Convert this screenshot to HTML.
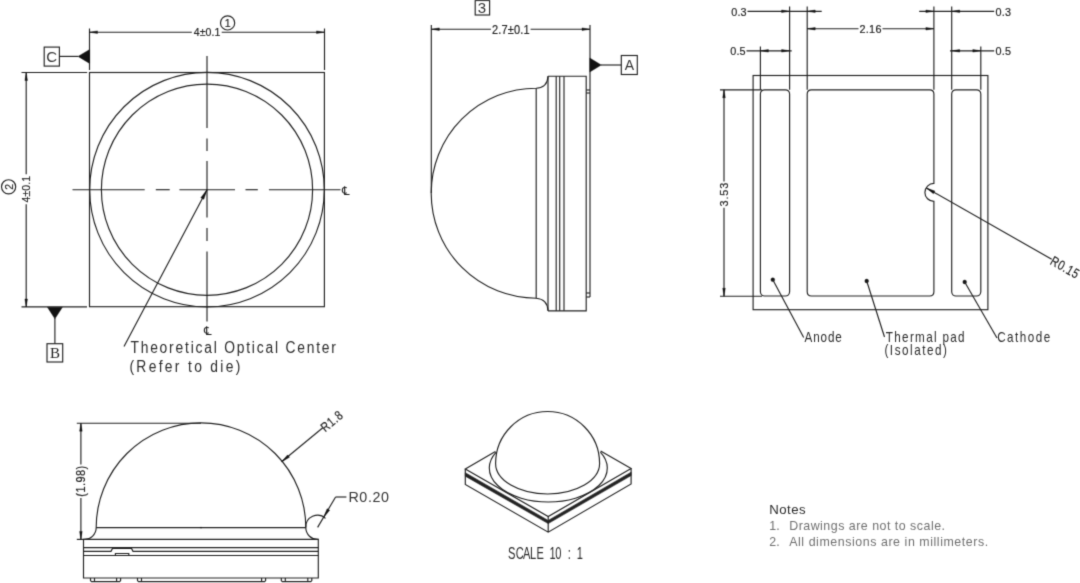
<!DOCTYPE html>
<html lang="en">
<head>
<meta charset="utf-8">
<title>LED package mechanical drawing</title>
<style>
html,body{margin:0;padding:0;background:#fff;}
body{width:1080px;height:583px;overflow:hidden;}
svg{display:block;filter:grayscale(1);}
svg line,svg rect,svg circle,svg path{fill:none;stroke:#222;stroke-width:1.15;}
svg .f{fill:#111;stroke:#111;stroke-width:.4;}
svg .band{fill:#222;stroke:#222;stroke-width:.6;}
svg .w{fill:#fff;}
svg text{font-family:"Liberation Sans","DejaVu Sans",sans-serif;fill:#222;stroke:none;}
svg text.cad{fill:#2b2b2b;}
svg text.dim{fill:#222;stroke:#222;stroke-width:.18;}
svg text.box{fill:#333;}
svg text.sym{font-family:"DejaVu Sans","Liberation Sans",sans-serif;fill:#222;}
svg text.ser{font-family:"Liberation Serif","DejaVu Serif",serif;}
svg text.nh{fill:#2a2a2a;}
svg text.nt{fill:#707070;}
</style>
</head>
<body>
<svg width="1080" height="583" viewBox="0 0 1080 583">
<defs><filter id="soft" x="0" y="0" width="1080" height="583" filterUnits="userSpaceOnUse" color-interpolation-filters="sRGB"><feConvolveMatrix order="3" kernelMatrix="2 10 2 10 52 10 2 10 2" edgeMode="none" preserveAlpha="false"/></filter></defs>
<g filter="url(#soft)">
<g id="top-view">
<rect x="89.5" y="72.5" width="234.9" height="234.2"/>
<circle cx="207" cy="189.7" r="117.3"/>
<circle cx="207" cy="189.7" r="105.6"/>
<line x1="72.5" y1="189.7" x2="144.7" y2="189.7"/>
<line x1="155.8" y1="189.7" x2="169.7" y2="189.7"/>
<line x1="179.4" y1="189.7" x2="235" y2="189.7"/>
<line x1="245.5" y1="189.7" x2="257.8" y2="189.7"/>
<line x1="268.9" y1="189.7" x2="340.5" y2="189.7"/>
<line x1="207" y1="56" x2="207" y2="128"/>
<line x1="207" y1="138.5" x2="207" y2="151"/>
<line x1="207" y1="161" x2="207" y2="217.5"/>
<line x1="207" y1="228" x2="207" y2="241"/>
<line x1="207" y1="251.5" x2="207" y2="321.5"/>
<text class="sym" transform="translate(342 194.6)" font-size="12">℄</text>
<text class="sym" transform="translate(204 334.6)" font-size="12">℄</text>
<line x1="89.5" y1="28.5" x2="89.5" y2="70"/>
<line x1="324.5" y1="28.5" x2="324.5" y2="70"/>
<line x1="89.5" y1="32.2" x2="191.8" y2="32.2"/>
<line x1="221.7" y1="32.2" x2="324.5" y2="32.2"/>
<polygon class="f" points="89.5,32.2 97.5,30.9 97.5,33.5"/>
<polygon class="f" points="324.5,32.2 316.5,33.5 316.5,30.9"/>
<text class="dim" transform="translate(207.1 36.4) translate(-13.3 0) scale(0.92 1)" font-size="11.5" textLength="28.91">4±0.1</text>
<circle cx="227.6" cy="22.9" r="7.1"/>
<text class="dim" transform="translate(227.6 27) scale(0.92 1)" font-size="11.5" text-anchor="middle">1</text>
<rect x="44.2" y="47.1" width="15.2" height="19"/>
<text class="box" transform="translate(51.6 61.8)" font-size="15" text-anchor="middle">C</text>
<line x1="59.4" y1="56.4" x2="78" y2="56.4"/>
<polygon class="f" points="78,56.4 89.6,49.6 89.6,63.4"/>
<line x1="21.5" y1="72.5" x2="87.2" y2="72.5"/>
<line x1="21.5" y1="306.8" x2="87" y2="306.8"/>
<line x1="26.2" y1="72.5" x2="26.2" y2="174.3"/>
<line x1="26.2" y1="204.3" x2="26.2" y2="307"/>
<polygon class="f" points="26.2,72.5 27.5,80.5 24.9,80.5"/>
<polygon class="f" points="26.2,307 24.9,299 27.5,299"/>
<text class="dim" transform="translate(30.4 189.2) rotate(-90) translate(-13.3 0) scale(0.92 1)" font-size="11.5" textLength="28.91">4±0.1</text>
<circle cx="8.6" cy="186.8" r="7.1"/>
<text class="dim" transform="translate(12.7 186.8) rotate(-90) scale(0.92 1)" font-size="11.5" text-anchor="middle">2</text>
<polygon class="f" points="47.4,307.2 62.4,307.2 54.9,318.8"/>
<line x1="54.9" y1="318" x2="54.9" y2="343.7"/>
<rect x="47" y="343.7" width="15.7" height="18.3"/>
<text class="ser" transform="translate(54.9 358)" font-size="15" text-anchor="middle">B</text>
<line x1="207" y1="189.7" x2="124" y2="346.5"/>
<polygon class="f" points="207,189.7 203.82,199.33 200.82,197.74"/>
<text class="cad" transform="translate(130.4 352.8) scale(0.8 1)" font-size="17.3" textLength="256.88">Theoretical Optical Center</text>
<text class="cad" transform="translate(129.4 372.1) scale(0.8 1)" font-size="17.3" textLength="138.75">(Refer to die)</text>
</g>
<g id="side-view">
<rect x="475.2" y="0.5" width="14.4" height="14.5"/>
<text class="box" transform="translate(482 12.7)" font-size="15" text-anchor="middle">3</text>
<line x1="431.3" y1="25" x2="431.3" y2="193"/>
<line x1="590" y1="25" x2="590" y2="297"/>
<line x1="431.3" y1="29.2" x2="490.9" y2="29.2"/>
<line x1="530.6" y1="29.2" x2="590" y2="29.2"/>
<polygon class="f" points="431.3,29.2 439.3,27.9 439.3,30.5"/>
<polygon class="f" points="590,29.2 582,30.5 582,27.9"/>
<text class="dim" transform="translate(510.8 33.6) translate(-18.75 0) scale(0.92 1)" font-size="12" textLength="40.76">2.7±0.1</text>
<polygon class="f" points="589.8,58 601.3,65 589.8,72"/>
<line x1="601" y1="65" x2="621.3" y2="65"/>
<rect x="621.3" y="55.5" width="16" height="19"/>
<text class="box" transform="translate(629.4 70.2)" font-size="14" text-anchor="middle">A</text>
<path d="M548 76.2H586.2V310.8H548"/>
<line x1="548" y1="76.2" x2="548" y2="310.8"/>
<line x1="556.2" y1="76.2" x2="556.2" y2="310.8"/>
<line x1="559.7" y1="76.2" x2="559.7" y2="310.8"/>
<line x1="564" y1="76.2" x2="564" y2="310.8"/>
<line x1="536.2" y1="88.3" x2="536.2" y2="298.3"/>
<path d="M548 76.2 Q547.5 87.5 536.2 88.2 A105 105 0 0 0 536.2 298.2 Q547.5 299 548 310.8"/>
<line x1="586.2" y1="90" x2="590" y2="90"/>
<line x1="586.2" y1="93" x2="590" y2="93"/>
<line x1="586.2" y1="297" x2="590" y2="297"/>
<line x1="586.2" y1="293" x2="590" y2="293"/>
</g>
<g id="pad-view">
<rect x="753.1" y="75.5" width="234.8" height="234.2"/>
<rect x="760.4" y="89.8" width="29.2" height="206.2" rx="4.2" ry="4.2"/>
<rect x="951.7" y="89.8" width="29.1" height="206.2" rx="4.2" ry="4.2"/>
<path d="M811.4000000000001 89.8H929.6999999999999Q933.9 89.8 933.9 94.0V183.4A9 9 0 0 0 933.9 201.4V291.8Q933.9 296 929.6999999999999 296H811.4000000000001Q807.2 296 807.2 291.8V94.0Q807.2 89.8 811.4000000000001 89.8Z"/>
<line x1="789.6" y1="6.5" x2="789.6" y2="89.8"/>
<line x1="807.2" y1="6.5" x2="807.2" y2="89.8"/>
<line x1="933.9" y1="6.5" x2="933.9" y2="89.8"/>
<line x1="951.7" y1="6.5" x2="951.7" y2="89.8"/>
<line x1="760.4" y1="46.5" x2="760.4" y2="89.8"/>
<line x1="980.8" y1="46.5" x2="980.8" y2="89.8"/>
<line x1="747.5" y1="11.3" x2="821.7" y2="11.3"/>
<polygon class="f" points="789.6,11.3 781.6,12.6 781.6,10"/>
<polygon class="f" points="807.2,11.3 815.2,10 815.2,12.6"/>
<line x1="919.2" y1="11.3" x2="994.2" y2="11.3"/>
<polygon class="f" points="933.9,11.3 925.9,12.6 925.9,10"/>
<polygon class="f" points="951.7,11.3 959.7,10 959.7,12.6"/>
<text class="dim" transform="translate(731.2 15.6) scale(0.92 1)" font-size="11.8" textLength="16.74">0.3</text>
<text class="dim" transform="translate(995.6 15.6) scale(0.92 1)" font-size="11.8" textLength="16.74">0.3</text>
<line x1="807.2" y1="28.7" x2="858.5" y2="28.7"/>
<line x1="882.5" y1="28.7" x2="933.9" y2="28.7"/>
<polygon class="f" points="807.2,28.7 815.2,27.4 815.2,30"/>
<polygon class="f" points="933.9,28.7 925.9,30 925.9,27.4"/>
<text class="dim" transform="translate(870.5 32.9) translate(-11 0) scale(0.92 1)" font-size="11.8" textLength="23.91">2.16</text>
<line x1="746.5" y1="50.8" x2="791.7" y2="50.8"/>
<polygon class="f" points="760.4,50.8 768.4,49.5 768.4,52.1"/>
<polygon class="f" points="789.6,50.8 781.6,52.1 781.6,49.5"/>
<line x1="950" y1="50.8" x2="994.2" y2="50.8"/>
<polygon class="f" points="951.7,50.8 959.7,49.5 959.7,52.1"/>
<polygon class="f" points="980.8,50.8 972.8,52.1 972.8,49.5"/>
<text class="dim" transform="translate(730.2 55.1) scale(0.92 1)" font-size="11.8" textLength="16.74">0.5</text>
<text class="dim" transform="translate(995.6 55.1) scale(0.92 1)" font-size="11.8" textLength="16.74">0.5</text>
<line x1="720" y1="89.8" x2="762" y2="89.8"/>
<line x1="720" y1="296.2" x2="762" y2="296.2"/>
<line x1="724" y1="89.8" x2="724" y2="181.5"/>
<line x1="724" y1="207.8" x2="724" y2="296.2"/>
<polygon class="f" points="724,89.8 725.3,97.8 722.7,97.8"/>
<polygon class="f" points="724,296.2 722.7,288.2 725.3,288.2"/>
<text class="dim" transform="translate(728.2 194.6) rotate(-90) translate(-11.8 0) scale(0.92 1)" font-size="11.8" textLength="25.65">3.53</text>
<line x1="926.3" y1="187.9" x2="1051.7" y2="259.3"/>
<polygon class="f" points="926.3,187.9 934.86,191.05 933.38,193.66"/>
<text class="dim" transform="translate(1049.3 263.8) rotate(29.7) scale(0.78 1)" font-size="13.6" textLength="39.1">R0.15</text>
<circle class="f" cx="772.8" cy="279.7" r="1.9"/>
<line x1="772.8" y1="279.7" x2="803.7" y2="337.5"/>
<circle class="f" cx="866.7" cy="281" r="1.9"/>
<line x1="866.7" y1="281" x2="884.5" y2="337"/>
<circle class="f" cx="964.7" cy="282" r="1.9"/>
<line x1="964.7" y1="282" x2="997" y2="338"/>
<text class="cad" transform="translate(804.6 342) scale(0.8 1)" font-size="14.6" textLength="46.5">Anode</text>
<text class="cad" transform="translate(885.8 342) scale(0.8 1)" font-size="14.6" textLength="98.5">Thermal pad</text>
<text class="cad" transform="translate(884.4 355.3) scale(0.8 1)" font-size="14.6" textLength="78.25">(Isolated)</text>
<text class="cad" transform="translate(997.2 342) scale(0.8 1)" font-size="14.6" textLength="66.25">Cathode</text>
</g>
<g id="front-view">
<path d="M83.5 539.4 A11.75 11.75 0 0 0 96.2 527.6 A104.8 104.8 0 0 1 305.8 527.6 A11.75 11.75 0 0 0 318.3 539.4"/>
<line x1="96.2" y1="527.6" x2="305.8" y2="527.6"/>
<circle class="f" cx="201" cy="527.6" r="0.6"/>
<path d="M83.5 539.4H318.3V578H83.5Z"/>
<line x1="83.5" y1="547.6" x2="318.3" y2="547.6"/>
<line x1="83.5" y1="555.5" x2="318.3" y2="555.5"/>
<path d="M83.5 551.3H111L112.5 548.4H131.5L133 551.3H318.3"/>
<path d="M115.4 555.5V553.5H128.8V555.5"/>
<path d="M90.5 578V580.6L91.5 581.6H119.6L120.6 580.6V578M94.5 578V581.6M116.6 578V581.6"/>
<path d="M137.5 578V580.6L138.5 581.6H264.6L265.6 580.6V578M141.5 578V581.6M261.6 578V581.6"/>
<path d="M281.3 578V580.6L282.3 581.6H310.8L311.8 580.6V578M285.3 578V581.6M307.8 578V581.6"/>
<line x1="76.8" y1="423.2" x2="201" y2="423.2"/>
<line x1="76.8" y1="539.4" x2="83.5" y2="539.4"/>
<line x1="80.9" y1="423.2" x2="80.9" y2="464.5"/>
<line x1="80.9" y1="498" x2="80.9" y2="539.4"/>
<polygon class="f" points="80.9,423.2 82.2,431.2 79.6,431.2"/>
<polygon class="f" points="80.9,539.4 79.6,531.4 82.2,531.4"/>
<text class="dim" transform="translate(85.2 481.2) rotate(-90) translate(-15.5 0) scale(0.92 1)" font-size="12" textLength="33.7">(1.98)</text>
<line x1="281.6" y1="461.8" x2="322.8" y2="427.8"/>
<polygon class="f" points="281.6,461.8 287.59,454.91 289.5,457.23"/>
<text class="dim" transform="translate(325.2 432.4) rotate(-39.5) scale(0.8 1)" font-size="13.2" textLength="30">R1.8</text>
<path d="M305.8 527.6 A11.75 11.75 0 0 1 325.53 518.39"/>
<line x1="317.6" y1="527.4" x2="335.6" y2="497"/>
<line x1="335.6" y1="497" x2="346.4" y2="497"/>
<polygon class="f" points="323.8,517.2 327.09,508.69 329.68,510.22"/>
<text class="box" transform="translate(348.4 502.4) scale(0.98 1)" font-size="14.6" textLength="41.43">R0.20</text>
</g>
<g id="iso-view">
<path d="M495.4 451.6 L465.3 469 L548.2 516.6 L631.1 468.6 L600.6 451"/>
<path d="M465.3 469V484.4L548.2 532.2L631.1 484V468.6M548.2 516.6V532.2"/>
<path class="band" d="M465.3 472.7L548.2 520.4L631.1 472.2V475.6L548.2 523.6L465.3 476.2Z"/>
<path class="w" d="M495.6 463.5 A52 52 0 0 1 599.6 463.5 A52 30.5 0 0 1 495.6 463.5Z"/>
<path d="M496.21 452.04 A59 34 0 1 0 600.39 452.04"/>
<text class="cad" transform="translate(508.1 558.5) scale(0.66 1)" font-size="16.8" x="0 11.52 22.73 33.03 43.03 53.03 62.73 71.52 81.06 90.3 95.45 103.94">SCALE 10 : 1</text>
</g>
<g id="notes">
<text class="nh" transform="translate(769.3 513.6)" font-size="13.2" textLength="36.2">Notes</text>
<text class="nt" transform="translate(769.3 530.4)" font-size="12.4">1.</text>
<text class="nt" transform="translate(789.2 530.4)" font-size="12.4" textLength="155.8">Drawings are not to scale.</text>
<text class="nt" transform="translate(769.3 546.1)" font-size="12.4">2.</text>
<text class="nt" transform="translate(789.2 546.1)" font-size="12.4" textLength="199">All dimensions are in millimeters.</text>
</g>
</g>
</svg>
</body>
</html>
